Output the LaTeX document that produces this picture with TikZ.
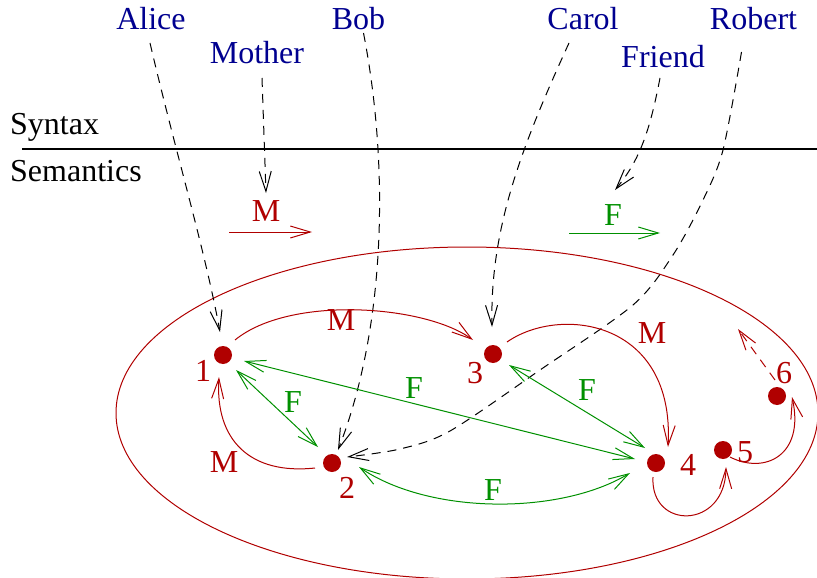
\documentclass[tikz,border=0pt]{standalone}
\usepackage{fontspec}
\setmainfont{Liberation Serif}
\usetikzlibrary{arrows.meta,calc}
\definecolor{xred}{RGB}{176,0,0}
\definecolor{xgreen}{RGB}{0,144,0}
\definecolor{xblue}{RGB}{0,0,144}
\begin{document}
\begin{tikzpicture}[x=1pt,y=-1pt, font=\fontsize{32}{38}\selectfont,
  >={Straight Barb[length=20pt,width=12pt]},
  person/.style={text=xblue, anchor=base, inner sep=0pt},
  lab/.style={inner sep=0pt},
  rlab/.style={inner sep=0pt, text=xred},
  glab/.style={inner sep=0pt, text=xgreen},
  dot/.style={circle, fill=xred, minimum size=18pt, inner sep=0pt},
  dashline/.style={dash pattern=on 9pt off 7pt, line width=1pt},
  redline/.style={xred, line width=1pt},
  greenline/.style={xgreen, line width=1pt},
]
\useasboundingbox (0,0) rectangle (817,578);

% syntax / semantics
\node[anchor=base west, inner sep=0pt] (syn) at (10,134) {Syntax};
\node[anchor=base west, inner sep=0pt] (sem) at (10,181) {Semantics};
\coordinate (la) at (22,149);
\coordinate (lb) at (817,149);
\draw[line width=1.1pt] (la) -- (lb);

% names
\node[person] (alice) at (151,30) {Alice};
\node[person] (bob) at (358.5,30) {Bob};
\node[person] (carol) at (583,30) {Carol};
\node[person] (robert) at (753.5,30) {Robert};
\node[person] (mother) at (257,64) {Mother};
\node[person] (friend) at (663,67) {Friend};

% relation legend
\node[rlab] (mlab) at (266,211) {M};
\node[glab] (flab) at (613,215) {F};
\coordinate (ma) at (229,232);
\coordinate (mb) at (312,232);
\coordinate (fa) at (569,233);
\coordinate (fb) at (660,233);
\draw[redline,->] (ma) -- (mb);
\draw[greenline,->] (fa) -- (fb);

% universe
\draw[redline] (467,413) ellipse [x radius=351, y radius=166];

% elements
\node[dot] (n1) at (223,355) {};
\node[dot] (n2) at (332,463) {};
\node[dot] (n3) at (493,354) {};
\node[dot] (n4) at (656,463) {};
\node[dot] (n5) at (723,450) {};
\node[dot] (n6) at (777,396) {};
\node[rlab] (l1) at (203,371) {1};
\node[rlab] (l2) at (347,488) {2};
\node[rlab] (l3) at (475,373) {3};
\node[rlab] (l4) at (688,465) {4};
\node[rlab] (l5) at (745,452) {5};
\node[rlab] (l6) at (784,373) {6};

% edge labels
\node[rlab] (m13) at (341,320) {M};
\node[rlab] (m21) at (224,462) {M};
\node[rlab] (m34) at (652,333) {M};
\node[glab] (f12) at (293,402) {F};
\node[glab] (f14) at (414,388) {F};
\node[glab] (f34) at (587,390) {F};
\node[glab] (f24) at (493,490) {F};

% interpretation (dashed)
\draw[dashline,->] ($(alice.base)+(-1,13)$) .. controls (175,150) and (205,250) .. ($(n1)+(-3,-23)$);
\draw[dashline,->] ($(mother.base)+(5,14)$) -- ($(mlab)+(0,-18)$);
\draw[dashline,->] ($(bob.base)+(5,3)$) .. controls (390,170) and (385,330) .. ($(n2)+(6,-13)$);
\draw[dashline,->] ($(carol.base)+(-14,13)$) .. controls (520,150) and (490,230) .. ($(n3)+(-1,-27)$);
\draw[dashline,->] ($(friend.base)+(-3,11)$) .. controls (650,130) and (640,160) .. ($(flab)+(2,-25)$);
\coordinate (rs) at ($(robert.base)+(-12,22)$);
\coordinate (re) at ($(n2)+(15,-6)$);
\draw[dashline,->] plot[smooth] coordinates {(rs) (723,150) (703,200) (673,255) (633,305) (540,370) (450,431) (400,449) (re)};

% M relation
\draw[redline,->] ($(n1)+(12,-15)$) .. controls (290,295) and (425,305) .. ($(n3)+(-20,-14)$);
\draw[redline,->] ($(n2)+(-17,5)$) .. controls (250,475) and (215,440) .. ($(n1)+(-4,22)$);
\draw[redline,->] ($(n3)+(14,-12)$) .. controls (560,305) and (675,320) .. ($(n4)+(12,-16)$);
\draw[redline,->] ($(n4)+(-3,14)$) .. controls (650,530) and (725,530) .. ($(n5)+(3,17)$);
\draw[redline,->] ($(n5)+(7,7)$) .. controls (765,475) and (805,455) .. ($(n6)+(15,1)$);
\coordinate (up6) at (738,329);
\draw[dashline,xred,->] ($(n6)+(-2,-16)$) -- (up6);

% F relation
\draw[greenline,<->] ($(n1)+(13,15)$) -- ($(n2)+(-14,-16)$);
\draw[greenline,<->] ($(n1)+(21,6)$) -- ($(n4)+(-21,-4)$);
\draw[greenline,<->] ($(n3)+(16,11)$) -- ($(n4)+(-11,-15)$);
\draw[greenline,<->] ($(n2)+(27,4)$) .. controls (430,515) and (560,515) .. ($(n4)+(-26,10)$);
\end{tikzpicture}
\end{document}
